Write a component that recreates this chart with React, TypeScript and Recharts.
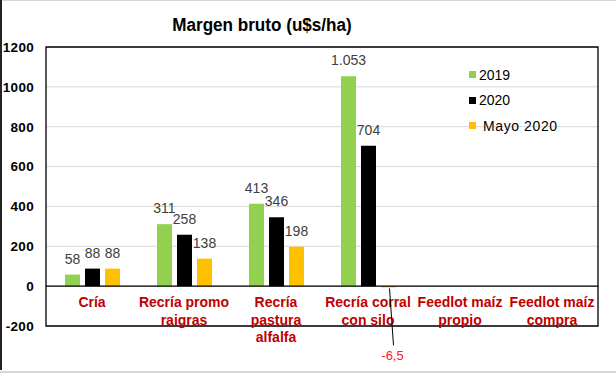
import React from 'react';
import { BarChart, Bar, XAxis, YAxis, CartesianGrid, ReferenceLine, ReferenceArea, Legend, LabelList } from 'recharts';

const categories = [
  ['Cría'],
  ['Recría promo', 'raigras'],
  ['Recría', 'pastura', 'alfalfa'],
  ['Recría corral', 'con silo'],
  ['Feedlot maíz', 'propio'],
  ['Feedlot maíz', 'compra'],
];
const values2019 = [58, 311, 413, 1053, null, null];
const values2020 = [88, 258, 346, 704, null, null];
const valuesMayo2020 = [88, 138, 198, -6.5, null, null];
const yTicks = [-200, 0, 200, 400, 600, 800, 1000, 1200];

const seriesInfo = [
  { key: 's2019', name: '2019', color: '#92D050' },
  { key: 's2020', name: '2020', color: '#000000' },
  { key: 'sMayo', name: 'Mayo 2020', color: '#FFC000' },
];

const data = categories.map((c, i) => ({
  cat: c.join(' '),
  s2019: values2019[i],
  s2020: values2020[i],
  sMayo: valuesMayo2020[i],
}));

const FONT = "Arial, 'Liberation Sans', sans-serif";

const fmt = (v: number) => {
  if (v < 0) return String(v).replace('.', ',');
  const s = String(Math.round(v));
  return s.replace(/\B(?=(\d{3})+(?!\d))/g, '.');
};

const ValueLabel = (props: any) => {
  const { x, y, width, value } = props;
  if (value === null || value === undefined) return null;
  const cx = Number(x) + Number(width) / 2;
  if (value < 0) {
    return (
      <g>
        <line x1={cx + 1} y1={Number(y) + 1} x2={cx + 5} y2={Number(y) + 58} stroke="#000" strokeWidth={1} />
        <text x={cx + 4} y={Number(y) + 73} textAnchor="middle" fontFamily={FONT} fontSize={13} fill="#FF2020">
          {fmt(value)}
        </text>
      </g>
    );
  }
  return (
    <text x={cx} y={Number(y) - 11} textAnchor="middle" fontFamily={FONT} fontSize={14} fill="#404040">
      {fmt(value)}
    </text>
  );
};

const renderCatTick = (props: any) => {
  const { x, y, payload } = props;
  const idx = data.findIndex((d) => d.cat === payload.value);
  const lines = idx >= 0 ? categories[idx] : [];
  return (
    <g key={`t-${payload.value}-${idx}`}>
      <text textAnchor="middle" fontFamily={FONT} fontSize={14} fontWeight="bold" fill="#C00000">
        {lines.map((l: string, i: number) => (
          <tspan key={i} x={x} y={Number(y) - 19 + i * 17.5}>{l}</tspan>
        ))}
      </text>
    </g>
  );
};

const LegendContent = () => (
  <div style={{ fontFamily: FONT, fontSize: 14, color: '#000' }}>
    {seriesInfo.map((s, i) => (
      <div key={s.key} style={{ display: 'flex', alignItems: 'center', height: 25.5 }}>
        <div style={{ width: 7, height: 7, background: s.color, marginRight: i === 2 ? 7 : 3 }} />
        <span style={{ letterSpacing: i === 2 ? 0.6 : 0 }}>{s.name}</span>
      </div>
    ))}
  </div>
);

export default function App() {
  return (
    <div style={{ position: 'absolute', left: 0, top: 0, width: 616, height: 373, background: '#fff' }}>
      <div style={{ position: 'absolute', left: 0, top: 0, width: 616, height: 1, background: '#d6d6d6' }} />
      <div style={{ position: 'absolute', left: 0, top: 371, width: 616, height: 2, background: '#d6d6d6' }} />
      <div style={{ position: 'absolute', left: 0, top: 0, width: 2, height: 370, background: '#222' }} />
      <svg style={{ position: 'absolute', left: 0, top: 0 }} width={616} height={40}>
        <text x={262} y={31} textAnchor="middle" fontFamily={FONT} fontSize={18} fontWeight="bold" fill="#000" transform="translate(262 31) scale(0.95 1.05) translate(-262 -31)">
          Margen bruto (u$s/ha)
        </text>
      </svg>
      <div style={{ position: 'absolute', left: 0, top: 0 }}>
        <BarChart
          width={616}
          height={373}
          data={data}
          margin={{ top: 47, right: 18, bottom: 17, left: 0 }}
          barSize={15}
          barGap={5}
        >
          <CartesianGrid vertical={false} stroke="#d9d9d9" strokeWidth={1} />
          <XAxis
            dataKey="cat"
            height={30}
            axisLine={false}
            tickLine={false}
            tickSize={0}
            tickMargin={0}
            interval={0}
            tick={renderCatTick}
          />
          <YAxis
            width={46}
            domain={[-200, 1200]}
            ticks={yTicks}
            interval={0}
            axisLine={false}
            tickLine={false}
            tickSize={8}
            tickMargin={4}
            tick={{ fontFamily: FONT, fontSize: 13.5, fontWeight: 'bold', fill: '#000', letterSpacing: 0.3 }}
          />
          <ReferenceArea y1={-200} y2={1200} fill="none" stroke="#000" strokeWidth={1.3} ifOverflow="visible" />
          <ReferenceLine y={0} stroke="#000" strokeWidth={1.3} />
          {seriesInfo.map((s) => (
            <Bar key={s.key} dataKey={s.key} name={s.name} fill={s.color} isAnimationActive={false}>
              <LabelList dataKey={s.key} content={<ValueLabel />} />
            </Bar>
          ))}
          <Legend
            layout="vertical"
            align="center"
            verticalAlign="middle"
            content={<LegendContent />}
            wrapperStyle={{ position: 'absolute', left: 469, top: 62, width: 130 }}
          />
        </BarChart>
      </div>
    </div>
  );
}
